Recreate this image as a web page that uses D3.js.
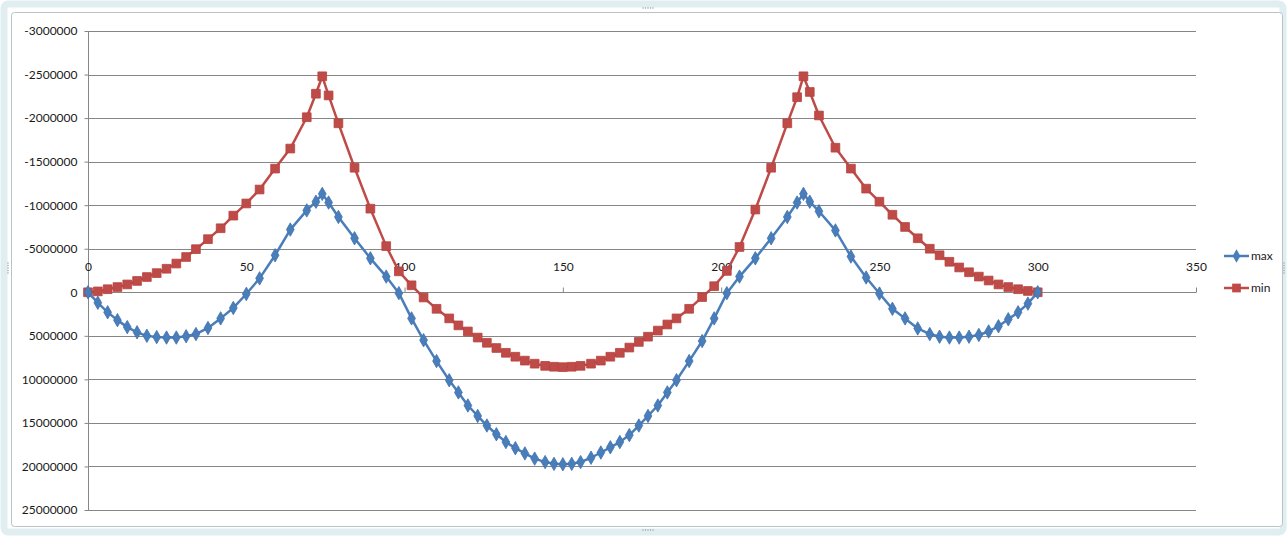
<!DOCTYPE html>
<html>
<head>
<meta charset="utf-8">
<script src="https://cdn.jsdelivr.net/npm/d3@7/dist/d3.min.js"></script>
<style>
  html, body { margin: 0; padding: 0; background: #ffffff; }
  svg { display: block; }
  text { font-family: Lato, "Open Sans", sans-serif; fill: #1a1a1a; }
</style>
</head>
<body>
<svg id="chart" width="1287" height="536"></svg>
<script>
// Section positions along the beam
const stations = [
  0, 3.1, 6.2, 9.3, 12.4, 15.5, 18.6, 21.7, 24.8, 27.9,
  31, 34.1, 37.9, 41.9, 45.9, 50, 54.2, 59.1, 63.9, 69.1,
  72, 74, 76, 79.1, 84.2, 89.2, 94.2, 98.2, 102.2, 106,
  110.1, 114.1, 117, 120, 123.1, 126, 129, 132, 135, 138,
  141.1, 144.4, 147.2, 150,
  152.8, 155.6, 158.9, 162, 165, 168, 171, 174, 176.9, 180,
  183, 185.9, 189.9, 194, 197.8, 201.8, 205.8, 210.8, 215.8, 220.9,
  224, 226, 228, 230.9, 236.1, 241, 245.8, 250, 254.1, 258.1,
  262.1, 265.9, 269, 272.1, 275.2, 278.3, 281.4, 284.5, 287.6, 290.7,
  293.8, 296.9, 300
];

// Envelope: maximum values
const maxValues = [
  0, 1200000, 2300000, 3200000, 4000000, 4600000, 5000000, 5150000, 5200000, 5200000,
  5050000, 4800000, 4100000, 3000000, 1800000, 200000, -1600000, -4250000, -7200000, -9400000,
  -10400000, -11300000, -10300000, -8650000, -6200000, -3900000, -1800000, 100000, 3000000, 5500000,
  7900000, 10100000, 11500000, 13000000, 14200000, 15300000, 16300000, 17200000, 17900000, 18500000,
  19100000, 19500000, 19700000, 19750000,
  19700000, 19500000, 19000000, 18400000, 17800000, 17200000, 16400000, 15300000, 14200000, 13000000,
  11500000, 10100000, 7900000, 5600000, 3000000, 100000, -1800000, -3900000, -6200000, -8650000,
  -10300000, -11300000, -10400000, -9300000, -7100000, -4100000, -1700000, 150000, 1900000, 3000000,
  4150000, 4800000, 5100000, 5200000, 5200000, 5100000, 4900000, 4500000, 3900000, 3100000,
  2300000, 1300000, 0
];

// Envelope: minimum values
const minValues = [
  0, -100000, -350000, -600000, -900000, -1300000, -1750000, -2200000, -2700000, -3300000,
  -4050000, -4950000, -6100000, -7350000, -8800000, -10200000, -11800000, -14200000, -16500000, -20100000,
  -22800000, -24800000, -22600000, -19400000, -14300000, -9600000, -5300000, -2400000, -800000, 600000,
  1900000, 3000000, 3800000, 4500000, 5200000, 5800000, 6400000, 6950000, 7400000, 7850000,
  8200000, 8450000, 8550000, 8600000,
  8550000, 8450000, 8200000, 7850000, 7400000, 6950000, 6350000, 5700000, 5100000, 4400000,
  3700000, 3000000, 1900000, 550000, -700000, -2450000, -5200000, -9500000, -14300000, -19400000,
  -22400000, -24800000, -23000000, -20300000, -16600000, -14200000, -11900000, -10400000, -8900000, -7500000,
  -6200000, -5000000, -4250000, -3500000, -2850000, -2300000, -1800000, -1350000, -900000, -600000,
  -350000, -150000, 0
];

const yTickValues = [-30000000, -25000000, -20000000, -15000000, -10000000, -5000000, 0,
                     5000000, 10000000, 15000000, 20000000, 25000000];
const yTickLabels = ["-3000000", "-2500000", "-2000000", "-1500000", "-1000000", "-5000000", "0",
                     "5000000", "10000000", "15000000", "20000000", "25000000"];
const xTickValues = [0, 50, 100, 150, 200, 250, 300, 350];
const seriesNames = ["max", "min"];

const svg = d3.select("#chart");
const BLUE = "#4a7ebb", RED = "#be4b48", GRID = "#868686";

// Outer chart frame
svg.append("rect").attr("x", 4).attr("y", 4).attr("width", 1279).attr("height", 528)
  .attr("rx", 4).attr("fill", "none").attr("stroke", "#e0eef1").attr("stroke-width", 7);
svg.append("rect").attr("x", 11.5).attr("y", 12.5).attr("width", 1271).attr("height", 514)
  .attr("rx", 3).attr("fill", "#ffffff").attr("stroke", "#b8c3c7").attr("stroke-width", 1);

// Frame handles
const handles = [[648, 8, "h"], [648, 530, "h"], [8, 268, "v"], [1284, 268, "v"]];
handles.forEach(([hx, hy, dir]) => {
  for (let i = -2; i <= 2; i++) {
    svg.append("rect")
      .attr("x", dir === "h" ? hx + i * 2.5 - 0.6 : hx - 0.6)
      .attr("y", dir === "h" ? hy - 0.6 : hy + i * 2.5 - 0.6)
      .attr("width", 1.2).attr("height", 1.2).attr("fill", "#8e9aa0");
  }
});

const x = d3.scaleLinear().domain([0, 350]).range([88, 1196]);
const y = d3.scaleLinear().domain([-30000000, 25000000]).range([31, 510]);

// Horizontal gridlines
svg.append("g").selectAll("line").data(yTickValues).join("line")
  .attr("x1", x(0)).attr("x2", x(350))
  .attr("y1", d => Math.round(y(d)) + 0.5).attr("y2", d => Math.round(y(d)) + 0.5)
  .attr("stroke", GRID).attr("stroke-width", 1);

// Value axis (left)
const yAxis = svg.append("g").attr("transform", `translate(${x(0) + 0.5},0)`)
  .call(d3.axisLeft(y).tickValues(yTickValues)
    .tickFormat((d, i) => yTickLabels[i]).tickSize(4).tickPadding(7));
yAxis.select(".domain").attr("stroke", GRID).attr("d", `M-0,${y(-30000000)}V${y(25000000)}`);
yAxis.selectAll(".tick line").attr("stroke", GRID);
yAxis.selectAll("text").style("font-size", "12px").style("font-family", "Lato, sans-serif")
  .attr("fill", "#111111");

// Category axis along zero
const xAxis = svg.append("g").attr("transform", `translate(0,${Math.round(y(0)) + 0.5})`)
  .call(d3.axisTop(x).tickValues(xTickValues).tickSize(5).tickPadding(17));
xAxis.select(".domain").attr("stroke", GRID).attr("d", `M${x(0)},0H${x(350)}`);
xAxis.selectAll(".tick line").attr("stroke", GRID);
xAxis.selectAll("text").style("font-size", "12px").style("font-family", "Lato, sans-serif")
  .attr("fill", "#111111");

const line = values => d3.line()
  .x((d, i) => x(stations[i]))
  .y(d => y(d))(values);

const diamond = d3.symbol().type(d3.symbolDiamond).size(52);
const square = d3.symbol().type(d3.symbolSquare).size(76);

// Series: min (red squares)
svg.append("path").attr("d", line(minValues)).attr("fill", "none")
  .attr("stroke", RED).attr("stroke-width", 2.5).attr("stroke-linejoin", "round");
svg.append("g").selectAll("path").data(minValues).join("path")
  .attr("d", square)
  .attr("transform", (d, i) => `translate(${x(stations[i])},${y(d)})`)
  .attr("fill", RED).attr("stroke", "#b8423f").attr("stroke-width", 0.8);

// Series: max (blue diamonds)
svg.append("path").attr("d", line(maxValues)).attr("fill", "none")
  .attr("stroke", BLUE).attr("stroke-width", 2.5).attr("stroke-linejoin", "round");
svg.append("g").selectAll("path").data(maxValues).join("path")
  .attr("d", diamond)
  .attr("transform", (d, i) => `translate(${x(stations[i])},${y(d)})`)
  .attr("fill", BLUE).attr("stroke", "#3f72ad").attr("stroke-width", 0.8);

// Legend
const legend = svg.append("g");
const legendRows = [
  { name: seriesNames[0], color: BLUE, sym: diamond, yy: 256 },
  { name: seriesNames[1], color: RED, sym: square, yy: 288 }
];
legendRows.forEach(r => {
  legend.append("line").attr("x1", 1224).attr("x2", 1249).attr("y1", r.yy).attr("y2", r.yy)
    .attr("stroke", r.color).attr("stroke-width", 2.5);
  legend.append("path").attr("d", r.sym).attr("transform", `translate(1236.5,${r.yy})`)
    .attr("fill", r.color);
  legend.append("text").attr("x", 1251).attr("y", r.yy + 4)
    .style("font-size", "12px").text(r.name);
});
</script>
</body>
</html>
